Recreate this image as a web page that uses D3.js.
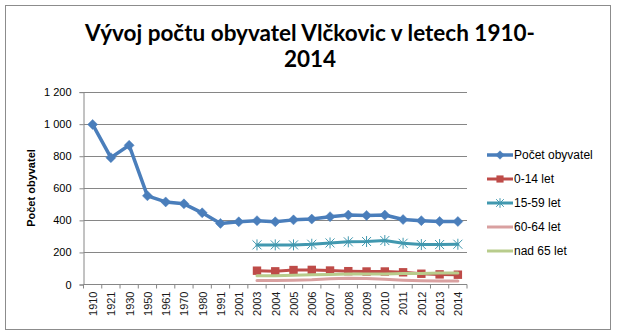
<!DOCTYPE html>
<html>
<head>
<meta charset="utf-8">
<script src="https://cdn.jsdelivr.net/npm/d3@7"></script>
<style>
  html, body { margin: 0; padding: 0; background: #fff; }
  svg { display: block; }
</style>
</head>
<body>
<svg id="chart" width="618" height="336"></svg>
<script>
// Years on the category axis
const years = ["1910","1921","1930","1950","1961","1970","1980","1991","2001","2003","2004","2005","2006","2007","2008","2009","2010","2011","2012","2013","2014"];
// Total population
const total = [995, 788, 865, 550, 512, 500, 444, 378, 388, 395, 388, 400, 405, 420, 430, 428, 430, 402, 395, 390, 390];
// Age groups, recorded from 2003 on
const ageYears = ["2003","2004","2005","2006","2007","2008","2009","2010","2011","2012","2013","2014"];
const age0_14  = [83, 79, 87, 88, 84, 80, 78, 78, 73, 64, 60, 58];
const age15_59 = [244, 244, 244, 248, 256, 263, 265, 271, 254, 246, 246, 248];
const age60_64 = [22, 22, 23, 26, 32, 36, 34, 30, 24, 20, 18, 18];
const age65    = [52, 52, 54, 57, 60, 62, 63, 63, 65, 66, 68, 68];
// Axis ticks
const yTicks = [0, 200, 400, 600, 800, 1000, 1200];
const yTickLabels = ["0", "200", "400", "600", "800", "1 000", "1 200"];

const series = [
  { name: "Počet obyvatel", x: years,    v: total,    color: "#4A7EBB", width: 3.5, marker: "diamond" },
  { name: "0-14 let",       x: ageYears, v: age0_14,  color: "#BE4B48", width: 3,   marker: "square" },
  { name: "15-59 let",      x: ageYears, v: age15_59, color: "#4198AF", width: 3,   marker: "star" },
  { name: "60-64 let",      x: ageYears, v: age60_64, color: "#D9A0A0", width: 3,   marker: null },
  { name: "nad 65 let",     x: ageYears, v: age65,    color: "#B8CC8C", width: 3,   marker: null }
];

const svg = d3.select("#chart");
const tickFont = "'Liberation Sans', Arial, sans-serif";
const gridColor = "#868686";

// Chart frame
svg.append("rect").attr("x", 5.5).attr("y", 5.5).attr("width", 605).attr("height", 324)
  .attr("fill", "#fff").attr("stroke", "#8c8c8c").attr("stroke-width", 1);

// Title
const title = svg.append("text").attr("text-anchor", "middle")
  .attr("font-family", "Lato, 'Open Sans', sans-serif").attr("font-weight", "bold")
  .attr("font-size", 22.5).attr("fill", "#000");
title.append("tspan").attr("x", 310).attr("y", 41).text("Vývoj počtu obyvatel Vlčkovic v letech 1910-");
title.append("tspan").attr("x", 310).attr("y", 67).text("2014");

// Scales
const x = d3.scalePoint().domain(years).range([83.5, 467]).padding(0.5);
const y = d3.scaleLinear().domain([0, 1200]).range([284, 91.6]);
const left = 83.5, right = 467;
const step = x.step();

// Gridlines
svg.append("g").selectAll("line").data(yTicks.filter(d => d > 0)).join("line")
  .attr("x1", left).attr("x2", right)
  .attr("y1", d => Math.round(y(d)) + 0.5).attr("y2", d => Math.round(y(d)) + 0.5)
  .attr("stroke", gridColor).attr("stroke-width", 1);

// Y axis
const yAxis = d3.axisLeft(y).tickValues(yTicks).tickSize(4).tickPadding(8)
  .tickFormat((d, i) => yTickLabels[i]);
const gy = svg.append("g").attr("transform", `translate(${left},0.5)`).call(yAxis);
gy.select(".domain").attr("stroke", gridColor);
gy.selectAll(".tick line").attr("stroke", gridColor);
gy.selectAll(".tick text").attr("font-family", tickFont).attr("font-size", 11).attr("fill", "#000");

// X axis: ticks sit between categories
const gx = svg.append("g").attr("transform", `translate(0,${Math.round(y(0)) + 0.5})`)
  .call(d3.axisBottom(x).tickSize(0).tickPadding(6));
gx.select(".domain").attr("stroke", gridColor).attr("d", `M${left},0H${right}`);
gx.selectAll(".tick text")
  .attr("font-family", tickFont).attr("font-size", 11).attr("fill", "#1a1a1a")
  .attr("transform", "rotate(-90)").attr("text-anchor", "end")
  .attr("x", -7).attr("y", 0).attr("dy", "0.35em");
gx.append("g").selectAll("line").data(d3.range(years.length + 1)).join("line")
  .attr("x1", i => left + i * step).attr("x2", i => left + i * step)
  .attr("y1", 0).attr("y2", 4).attr("stroke", gridColor);

// Markers
function drawMarker(g, type, color, cx, cy, s) {
  if (type === "diamond") {
    g.append("path").attr("d", `M${cx},${cy - s}L${cx + s},${cy}L${cx},${cy + s}L${cx - s},${cy}Z`)
      .attr("fill", color).attr("stroke", color).attr("stroke-width", 0.5);
  } else if (type === "square") {
    g.append("rect").attr("x", cx - s).attr("y", cy - s).attr("width", 2 * s).attr("height", 2 * s)
      .attr("fill", color);
  } else if (type === "star") {
    g.append("path").attr("d",
      `M${cx - s},${cy - s}L${cx + s},${cy + s}M${cx - s},${cy + s}L${cx + s},${cy - s}M${cx},${cy - s - 1}L${cx},${cy + s + 1}`)
      .attr("fill", "none").attr("stroke", color).attr("stroke-width", 1);
  }
}

const markerSize = { diamond: 5, square: 4.2, star: 4.5 };
const line = d3.line().x(d => x(d[0])).y(d => y(d[1]));

series.forEach(s => {
  const g = svg.append("g");
  const pts = s.x.map((yr, i) => [yr, s.v[i]]);
  g.append("path").datum(pts).attr("d", line)
    .attr("fill", "none").attr("stroke", s.color).attr("stroke-width", s.width)
    .attr("stroke-linejoin", "round").attr("stroke-linecap", "round");
  if (s.marker) pts.forEach(p => drawMarker(g, s.marker, s.color, x(p[0]), y(p[1]), markerSize[s.marker]));
});

// Legend
const legend = svg.append("g");
series.forEach((s, i) => {
  const ly = 155 + i * 24;
  const g = legend.append("g");
  g.append("line").attr("x1", 487).attr("x2", 513).attr("y1", ly).attr("y2", ly)
    .attr("stroke", s.color).attr("stroke-width", s.width);
  if (s.marker) drawMarker(g, s.marker, s.color, 500, ly, markerSize[s.marker] * 0.85);
  g.append("text").attr("x", 514).attr("y", ly).attr("dy", "0.35em")
    .attr("font-family", tickFont).attr("font-size", 12).attr("fill", "#000").text(s.name);
});

// Y axis title
svg.append("text").attr("transform", "translate(35,188) rotate(-90)")
  .attr("text-anchor", "middle").attr("font-family", tickFont).attr("font-weight", "bold")
  .attr("font-size", 11).attr("fill", "#000").text("Počet obyvatel");
</script>
</body>
</html>
